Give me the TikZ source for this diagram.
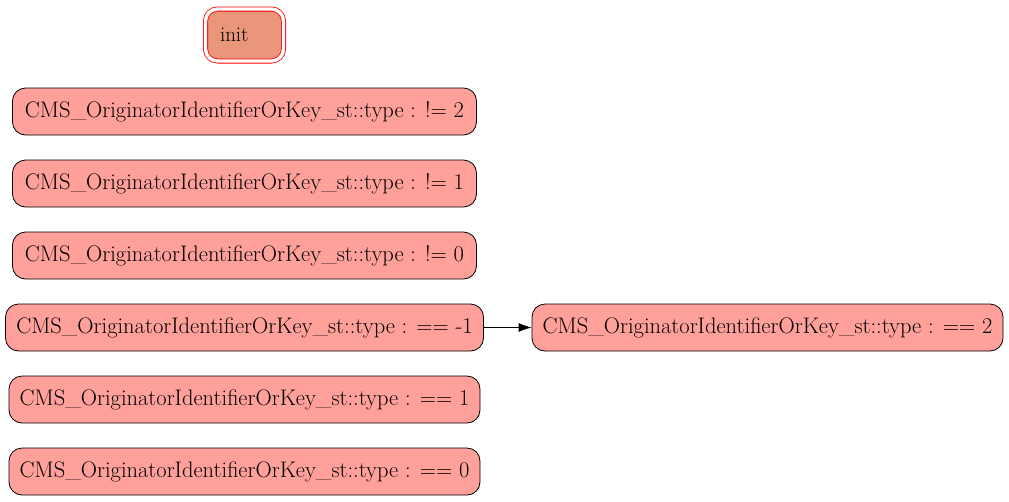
\documentclass[tikz,border=0pt]{standalone}
\usepackage{fontspec}
\usepackage{tikz}
\usetikzlibrary{arrows.meta, positioning}
\definecolor{statefill}{HTML}{FFA09A}
\definecolor{initfill}{HTML}{E9967A}

\begin{document}
\begin{tikzpicture}[x=1pt,y=-1pt,
    state/.style={rectangle,rounded corners=13pt,draw=black,line width=0.8pt,fill=statefill,minimum height=47pt,inner sep=0pt,font=\fontsize{22.5}{25}\selectfont},
    initstate/.style={rectangle,rounded corners=12pt,draw=red,line width=0.8pt,double=white,double distance=3.4pt,fill=initfill,inner sep=0pt,font=\fontsize{21}{24}\selectfont}]
\useasboundingbox (0,0) rectangle (1009,501);
% Initial state
\node[initstate,minimum width=78pt,minimum height=52pt] (init) at (244.5,35) {\hbox to 49pt{init\hfil}};
% Left column
\foreach \name/\y/\w/\txt in {ne2/111.5/464/{!= 2}, ne1/183.5/464/{!= 1}, ne0/255.5/464/{!= 0}, eqm1/327.5/478/{== -1}, eq1/399.5/471/{== 1}, eq0/471.5/471/{== 0}} {
    \node[state,minimum width=\w pt] (\name) at (244.5,\y) {CMS\_OriginatorIdentifierOrKey\_st::type : \txt};
}
% Right column
\node[state,minimum width=471pt] (eq2) at (767.5,327.5) {CMS\_OriginatorIdentifierOrKey\_st::type : == 2};
% Transitions
\draw[line width=0.8pt,-{Latex[length=13pt,width=9pt]}] (eqm1) -- (eq2);
\end{tikzpicture}
\end{document}
